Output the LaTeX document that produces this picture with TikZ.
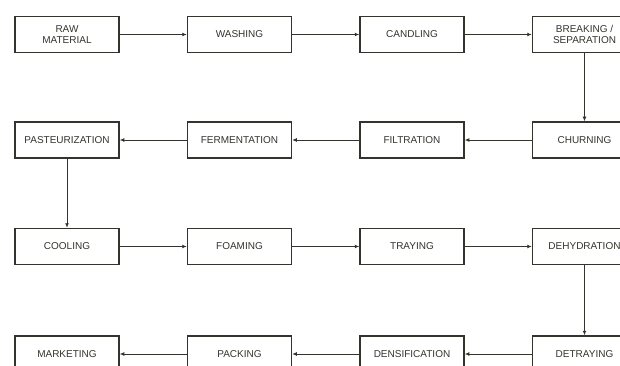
\documentclass[tikz,border=0pt]{standalone}
\usepackage{fontspec}
\setmainfont{Liberation Sans}
\usetikzlibrary{arrows.meta,positioning}
\definecolor{inkgray}{RGB}{50,52,45}

\begin{document}
\begin{tikzpicture}[
    x=1pt, y=1pt,
    node distance=67pt,
    every node/.style={font=\fontsize{10}{11.6}\selectfont},
    box/.style={draw=inkgray, line width=1.5pt, minimum width=104pt, minimum height=36pt, inner sep=1pt, align=center, text=inkgray},
    flow/.style={-{Latex[length=4.5pt,width=4pt]}, draw=inkgray, line width=0.9pt}
  ]
    \useasboundingbox (0,0) rectangle (620,-366);
    % row 1
    \node[box] (raw) at (67,-34.5) {RAW\\MATERIAL};
    \node[box, right=of raw] (wash) {WASHING};
    \node[box, right=of wash] (candle) {CANDLING};
    \node[box, right=of candle] (break) {BREAKING /\\SEPARATION};
    % row 2
    \node[box, below=68pt of break] (churn) {CHURNING};
    \node[box, left=of churn] (filter) {FILTRATION};
    \node[box, left=of filter] (ferment) {FERMENTATION};
    \node[box, left=of ferment] (pasteur) {PASTEURIZATION};
    % row 3
    \node[box, below=69pt of pasteur] (cool) {COOLING};
    \node[box, right=of cool] (foam) {FOAMING};
    \node[box, right=of foam] (tray) {TRAYING};
    \node[box, right=of tray] (dehyd) {DEHYDRATION};
    % row 4
    \node[box, below=70pt of dehyd] (detray) {DETRAYING};
    \node[box, left=of detray] (densify) {DENSIFICATION};
    \node[box, left=of densify] (pack) {PACKING};
    \node[box, left=of pack] (market) {MARKETING};
    % connectors
    \draw[flow] (raw) -- (wash);
    \draw[flow] (wash) -- (candle);
    \draw[flow] (candle) -- (break);
    \draw[flow] (break) -- (churn);
    \draw[flow] (churn) -- (filter);
    \draw[flow] (filter) -- (ferment);
    \draw[flow] (ferment) -- (pasteur);
    \draw[flow] (pasteur) -- (cool);
    \draw[flow] (cool) -- (foam);
    \draw[flow] (foam) -- (tray);
    \draw[flow] (tray) -- (dehyd);
    \draw[flow] (dehyd) -- (detray);
    \draw[flow] (detray) -- (densify);
    \draw[flow] (densify) -- (pack);
    \draw[flow] (pack) -- (market);
  \end{tikzpicture}
\end{document}
